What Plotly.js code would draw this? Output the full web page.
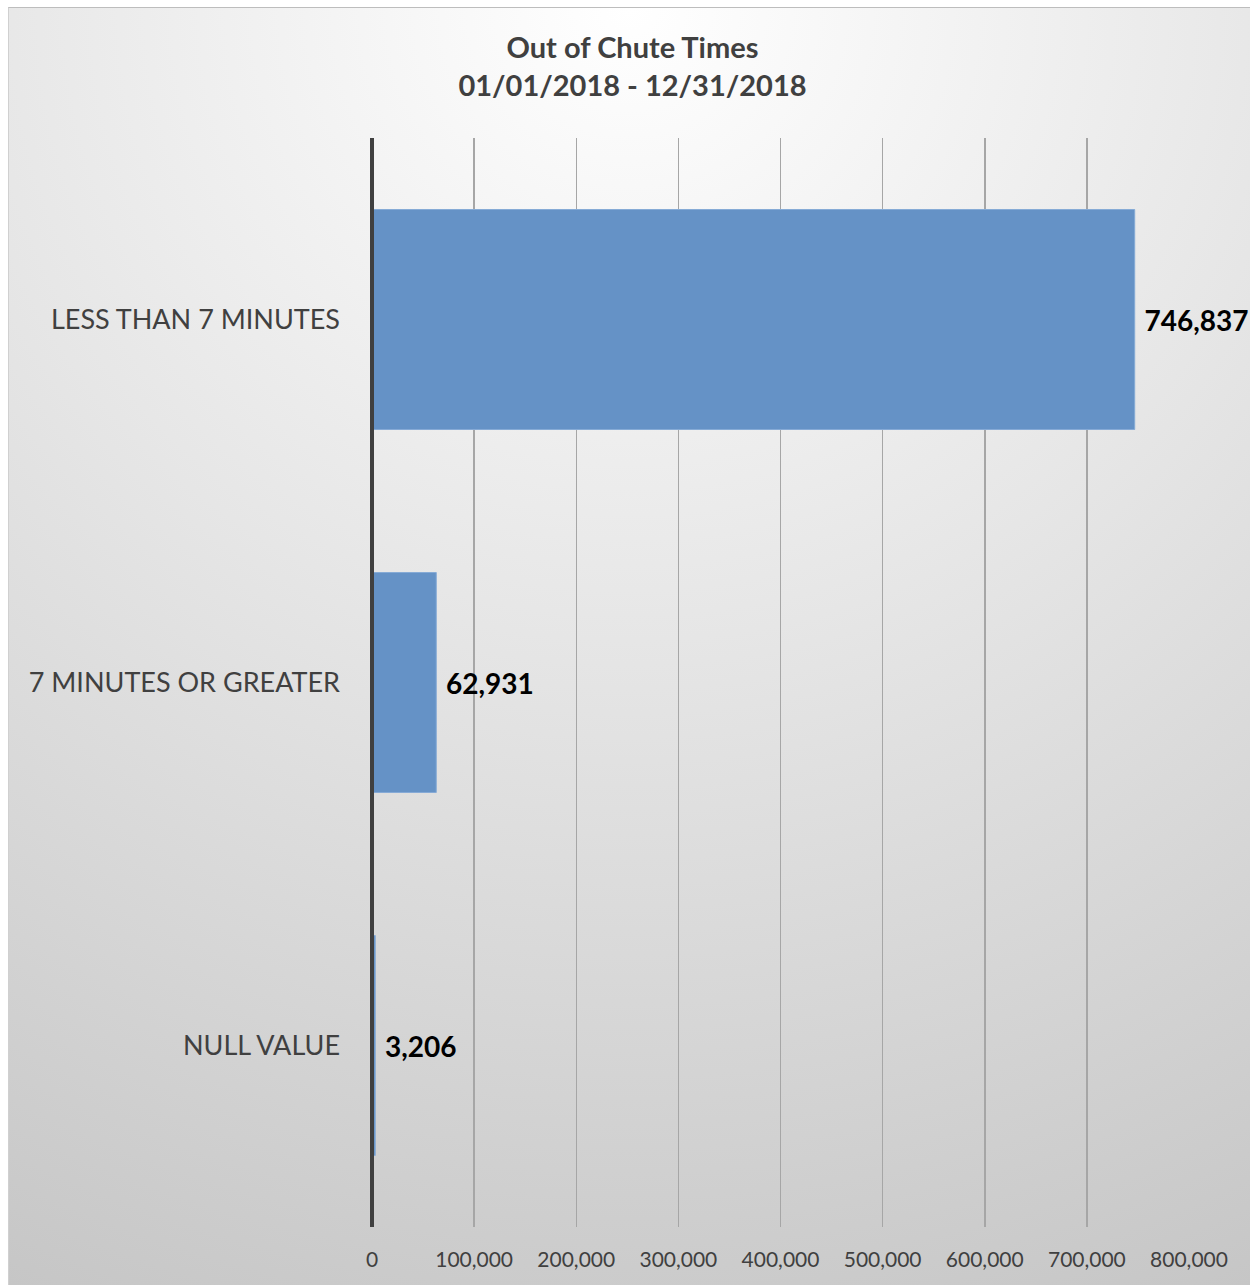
<!DOCTYPE html>
<html>
<head>
<meta charset="utf-8">
<script src="https://cdn.plot.ly/plotly-3.0.1.min.js"></script>
<style>
  html, body { margin: 0; padding: 0; background: #ffffff; width: 1255px; height: 1285px; overflow: hidden; }
  #panel { position: absolute; left: 8px; top: 7px; width: 1242px; height: 1278px;
    background: radial-gradient(ellipse 120% 110% at 50% 0%, #ffffff 0%, #e6e6e6 45%, #c6c6c6 100%);
    border-top: 1px solid #bdbdbd; border-left: 1px solid #d0d0d0; box-sizing: border-box; }
  #chart { position: absolute; left: 0; top: 0; width: 1255px; height: 1285px; }
</style>
</head>
<body>
<div id="panel"></div>
<div id="chart"></div>
<script>
const categories = ["LESS THAN 7 MINUTES", "7 MINUTES OR GREATER", "NULL VALUE"];
const counts = [746837, 62931, 3206];
const labels = ["746,837", "62,931", "3,206"];
const tickVals = [0, 100000, 200000, 300000, 400000, 500000, 600000, 700000, 800000];
const tickText = ["0", "100,000", "200,000", "300,000", "400,000", "500,000", "600,000", "700,000", "800,000"];

const FONT = 'Lato, "Open Sans", sans-serif';

const trace = {
  type: 'bar',
  orientation: 'h',
  y: categories,
  x: counts,
  text: labels,
  texttemplate: ' %{text}',
  textposition: 'outside',
  cliponaxis: false,
  constraintext: 'none',
  textfont: { family: FONT, size: 28, color: '#000000', weight: 'bold' },
  marker: { color: '#6592c6', line: { color: '#86abd6', width: 1 } },
  width: 0.606,
  hoverinfo: 'none'
};

const layout = {
  width: 1255, height: 1285,
  paper_bgcolor: 'rgba(0,0,0,0)',
  plot_bgcolor: 'rgba(0,0,0,0)',
  margin: { l: 372, r: 66, t: 138, b: 58 },
  showlegend: false,
  title: {
    text: '<b>Out of Chute Times<br>01/01/2018 - 12/31/2018</b>',
    x: 0.504, xanchor: 'center', xref: 'container',
    y: 0.955, yanchor: 'middle', yref: 'container',
    font: { family: FONT, size: 29, color: '#404040' }
  },
  xaxis: {
    range: [0, 800000],
    tickvals: tickVals, ticktext: tickText,
    showgrid: true, gridcolor: '#a6a6a6', gridwidth: 1.5,
    zeroline: false, showline: false, ticks: '',
    ticklabelstandoff: 18,
    tickfont: { family: FONT, size: 21, color: '#404040' },
    fixedrange: true
  },
  yaxis: {
    autorange: 'reversed',
    categoryorder: 'array', categoryarray: categories,
    showline: false,
    showgrid: false, zeroline: false, ticks: '',
    ticklabelstandoff: 31,
    tickfont: { family: FONT, size: 27, color: '#404040' },
    fixedrange: true
  },
  shapes: [{
    type: 'line', layer: 'above',
    xref: 'paper', x0: 0, x1: 0,
    yref: 'paper', y0: 0, y1: 1,
    line: { color: '#404040', width: 4 }
  }],
  bargap: 0.4
};

Plotly.newPlot('chart', [trace], layout, { displayModeBar: false, staticPlot: true });
</script>
</body>
</html>
